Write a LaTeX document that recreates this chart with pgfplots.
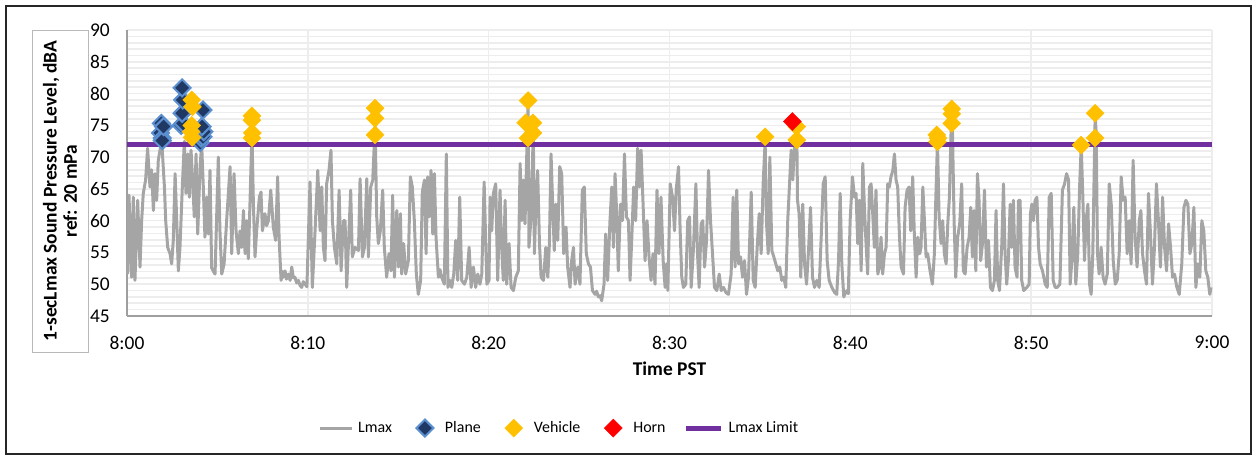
\documentclass[border=0pt]{standalone}
\usepackage{pgfplots}
\pgfplotsset{compat=1.18}
\usepackage{pgfplotstable}
\usepackage{fontspec}
\setmainfont{Carlito}
\definecolor{lmaxgray}{HTML}{A5A5A5}
\definecolor{limitpurple}{HTML}{7030A0}
\definecolor{vehyellow}{HTML}{FFC000}
\definecolor{planedark}{HTML}{203864}
\definecolor{planeedge}{HTML}{5B8FCF}
\definecolor{gridgray}{HTML}{EDEDED}
\pgfplotsset{
  mylinelegend/.style={legend image code/.code={\draw[##1] (0bp,0bp) -- (32bp,0bp);}},
  mylimitlegend/.style={legend image code/.code={\draw[##1] (0bp,0bp) -- (35bp,0bp);}},
  mymarklegend/.style={legend image code/.code={\path[draw=none,fill=none] (0bp,-1bp) rectangle (30bp,1bp);\draw[mark repeat=2,mark phase=2,##1] plot coordinates {(0bp,0bp) (15bp,0bp) (30bp,0bp)};}},
}
\pgfplotstableread{
t L
0.04 51.6
0.11 64.0
0.26 51.1
0.35 63.7
0.44 50.6
0.59 63.2
0.72 52.7
0.81 60.0
0.90 64.3
1.03 66.4
1.14 71.4
1.27 65.3
1.36 68.0
1.46 61.6
1.55 67.4
1.64 63.2
1.73 69.5
1.88 72.0
1.95 71.1
2.07 65.3
2.14 60.0
2.25 55.8
2.38 54.8
2.47 53.2
2.56 56.9
2.66 67.4
2.75 60.0
2.84 52.1
2.93 55.8
3.06 65.3
3.17 72.5
3.26 64.3
3.36 70.5
3.45 63.7
3.54 71.1
3.63 66.4
3.72 60.6
3.82 70.5
3.91 57.9
4.04 68.5
4.13 72.0
4.22 65.3
4.31 57.4
4.41 63.7
4.50 57.9
4.59 67.9
4.68 52.6
4.78 52.0
4.87 51.6
5.05 70.0
5.14 58.4
5.24 51.6
5.37 53.2
5.51 60.0
5.70 68.5
5.79 54.8
5.92 67.4
6.03 58.4
6.16 54.8
6.25 58.4
6.34 55.8
6.44 61.6
6.53 54.8
6.62 60.0
6.71 54.0
6.80 62.6
6.91 74.0
6.99 62.6
7.08 54.3
7.17 58.4
7.32 63.7
7.41 64.5
7.49 58.4
7.63 61.1
7.72 59.2
7.82 60.0
7.95 64.8
8.09 59.0
8.22 56.9
8.33 66.9
8.41 57.4
8.52 50.6
8.60 52.0
8.65 51.1
8.74 52.1
8.82 50.8
8.92 51.6
9.02 50.6
9.11 52.7
9.20 51.0
9.29 51.1
9.38 50.2
9.48 50.6
9.57 49.8
9.66 49.5
9.75 50.4
9.85 50.0
9.95 49.6
10.12 66.1
10.25 49.5
10.40 58.4
10.55 67.9
10.68 58.4
10.77 65.3
10.86 55.8
10.95 53.7
11.04 65.8
11.17 67.9
11.28 71.1
11.36 60.0
11.47 55.8
11.60 53.2
11.73 64.8
11.84 52.1
11.97 60.0
12.06 60.0
12.15 49.5
12.24 55.8
12.37 64.8
12.46 54.3
12.61 55.8
12.80 55.3
12.89 66.6
13.02 54.3
13.13 55.8
13.26 66.6
13.35 54.3
13.48 65.3
13.59 66.4
13.72 75.0
13.81 60.6
13.90 56.4
14.01 58.4
14.14 64.8
14.23 55.8
14.36 51.1
14.49 54.8
14.60 52.1
14.69 64.0
14.79 51.1
14.92 61.6
15.01 52.7
15.12 61.1
15.19 51.6
15.30 56.4
15.41 51.6
15.56 53.7
15.67 66.9
15.78 65.3
15.89 60.0
16.00 51.6
16.11 48.4
16.24 50.6
16.33 64.5
16.45 66.4
16.54 54.8
16.63 66.9
16.72 60.6
16.81 67.9
16.91 57.9
17.00 67.4
17.09 57.4
17.22 51.1
17.31 52.3
17.40 51.1
17.55 50.0
17.66 70.5
17.75 49.5
17.86 50.6
17.96 49.5
18.07 51.6
18.18 56.9
18.29 50.6
18.40 63.7
18.51 50.6
18.66 50.0
18.79 51.1
18.92 55.8
19.03 49.5
19.16 52.7
19.28 49.5
19.40 51.6
19.52 50.0
19.62 51.6
19.75 66.1
19.90 50.0
20.02 50.6
20.08 63.7
20.17 58.4
20.26 64.3
20.39 65.8
20.50 50.6
20.63 64.8
20.72 55.8
20.81 50.6
20.91 63.2
21.00 50.0
21.13 56.4
21.24 49.5
21.37 49.0
21.50 51.1
21.64 52.1
21.74 69.0
21.83 60.0
21.92 66.4
22.01 59.5
22.18 78.5
22.23 55.8
22.33 60.0
22.47 74.0
22.53 54.8
22.62 63.2
22.71 67.9
22.81 56.4
22.90 51.1
23.03 50.6
23.16 55.8
23.27 51.1
23.36 56.4
23.45 70.5
23.54 62.6
23.63 55.3
23.71 62.6
23.82 56.9
23.93 68.5
24.04 67.4
24.15 54.8
24.28 59.0
24.37 52.7
24.50 49.5
24.59 53.7
24.69 55.8
24.78 50.0
24.93 52.7
25.05 50.0
25.18 64.8
25.29 65.3
25.40 54.8
25.52 53.2
25.63 52.7
25.74 49.0
25.88 48.4
25.97 48.9
26.07 48.0
26.16 48.2
26.25 47.4
26.38 50.0
26.47 57.9
26.58 50.6
26.71 60.0
26.81 65.3
26.90 55.8
26.99 67.4
27.08 61.1
27.17 52.1
27.29 62.6
27.40 60.0
27.51 70.5
27.62 60.6
27.73 60.0
27.82 50.6
27.91 56.9
28.02 65.3
28.13 60.0
28.24 71.4
28.34 65.3
28.43 71.1
28.54 62.6
28.65 53.7
28.76 60.0
28.87 54.3
28.98 50.6
29.09 54.8
29.20 50.0
29.31 64.8
29.42 54.8
29.53 63.7
29.65 53.7
29.76 49.5
29.84 53.2
29.91 49.0
30.04 65.8
30.17 63.7
30.28 58.4
30.37 64.8
30.50 68.5
30.59 58.4
30.68 51.1
30.77 49.5
30.90 50.0
31.01 60.0
31.11 60.6
31.20 49.5
31.33 55.8
31.46 65.8
31.55 54.8
31.64 49.5
31.75 59.5
31.84 60.0
31.94 52.7
32.05 56.9
32.16 67.9
32.27 60.0
32.38 54.8
32.49 49.5
32.62 49.0
32.75 51.6
32.86 49.0
32.99 49.5
33.12 48.7
33.26 48.4
33.41 51.6
33.52 63.7
33.63 52.7
33.72 64.8
33.82 53.2
33.93 54.3
34.04 51.1
34.15 53.7
34.26 48.4
34.37 51.1
34.52 64.5
34.63 50.6
34.74 49.5
34.85 55.8
34.96 61.1
35.07 54.8
35.18 65.8
35.29 72.5
35.36 60.0
35.46 54.8
35.55 70.0
35.66 55.3
35.77 54.3
35.88 53.2
35.99 52.1
36.10 52.7
36.21 50.6
36.32 51.1
36.43 49.5
36.54 60.0
36.64 65.8
36.73 71.1
36.82 66.4
36.91 71.6
37.04 74.0
37.08 63.2
37.17 61.1
37.26 51.1
37.37 62.6
37.47 53.2
37.58 50.0
37.69 55.3
37.80 62.1
37.91 51.1
38.02 49.5
38.15 50.6
38.28 49.5
38.39 57.4
38.50 65.8
38.61 66.9
38.72 53.7
38.83 50.6
38.98 49.5
39.13 48.7
39.25 48.4
39.35 53.7
39.44 64.3
39.53 53.2
39.64 48.0
39.72 48.6
39.81 49.0
39.89 48.5
39.99 60.0
40.12 66.9
40.23 63.7
40.32 64.3
40.41 56.4
40.50 63.2
40.60 52.1
40.69 69.0
40.78 62.1
40.87 56.4
40.96 51.6
41.06 65.3
41.15 65.8
41.24 61.1
41.33 55.8
41.42 64.8
41.52 51.6
41.61 52.7
41.70 57.4
41.79 51.6
41.89 54.8
41.98 55.8
42.07 65.8
42.16 65.3
42.25 66.9
42.35 67.9
42.44 70.5
42.53 66.4
42.62 65.3
42.72 57.4
42.81 52.7
42.94 51.6
43.03 62.1
43.14 64.8
43.25 65.3
43.34 58.4
43.45 66.9
43.54 57.9
43.64 51.1
43.73 57.4
43.84 54.8
43.91 55.8
44.01 65.3
44.10 60.0
44.19 54.3
44.28 54.8
44.41 52.1
44.54 50.0
44.65 54.8
44.72 62.6
44.82 72.5
44.91 60.6
45.02 56.4
45.11 60.0
45.20 54.8
45.30 53.2
45.39 59.5
45.48 63.7
45.59 76.0
45.65 74.0
45.74 60.0
45.83 51.1
45.94 57.4
46.05 59.5
46.16 65.8
46.25 52.1
46.35 51.6
46.46 55.8
46.57 57.4
46.66 62.1
46.75 54.3
46.85 61.6
46.94 52.1
47.03 67.4
47.12 63.2
47.21 53.7
47.31 56.4
47.42 64.8
47.53 52.7
47.64 56.9
47.75 49.5
47.86 49.0
47.97 50.6
48.06 61.6
48.15 50.6
48.25 49.0
48.38 56.4
48.47 65.8
48.56 54.8
48.65 50.0
48.74 53.7
48.84 62.6
48.93 55.8
49.02 63.2
49.11 52.7
49.22 51.1
49.30 63.2
49.39 63.2
49.48 50.6
49.59 49.0
49.76 49.5
49.89 50.0
49.96 61.1
50.04 62.6
50.13 60.0
50.22 63.2
50.32 63.7
50.41 55.8
50.50 53.2
50.63 52.1
50.78 50.0
50.89 49.5
51.00 63.7
51.11 64.3
51.22 50.6
51.33 49.5
51.44 49.5
51.59 50.0
51.73 64.8
51.85 65.8
51.96 67.4
52.07 66.4
52.16 50.0
52.25 53.7
52.36 62.1
52.47 50.0
52.58 54.8
52.68 65.3
52.77 71.9
52.86 63.7
52.95 53.7
53.04 60.0
53.14 62.6
53.23 50.0
53.32 48.4
53.41 54.8
53.54 76.5
53.60 73.7
53.67 54.8
53.76 51.6
53.87 55.8
53.98 51.1
54.09 50.0
54.21 51.6
54.32 65.8
54.43 62.6
54.54 53.7
54.65 50.0
54.76 50.6
54.87 54.8
54.98 66.9
55.09 63.2
55.20 63.7
55.31 54.8
55.42 60.0
55.53 53.2
55.64 69.5
55.75 57.4
55.86 52.7
55.98 60.0
56.07 61.6
56.16 54.8
56.27 52.1
56.38 50.0
56.49 64.3
56.60 57.9
56.71 50.0
56.82 55.8
56.93 65.8
57.04 60.0
57.15 52.7
57.27 63.7
57.38 55.8
57.49 52.1
57.60 59.5
57.71 55.8
57.82 51.1
57.93 51.6
58.06 49.5
58.19 48.4
58.33 53.2
58.45 62.1
58.56 63.2
58.67 62.6
58.78 54.8
58.89 56.4
59.00 62.1
59.11 49.5
59.22 53.2
59.33 51.1
59.44 60.0
59.55 58.4
59.66 52.1
59.77 51.1
59.88 48.4
59.95 49.5
}\lmaxdata
\begin{document}
\begin{tikzpicture}
\begin{axis}[
  at={(0bp,0bp)}, anchor=south west,
  scale only axis, width=1085bp, height=286bp,
  xmin=0, xmax=60, ymin=45, ymax=90,
  axis x line*=bottom, axis y line*=left,
  axis line style={draw=gray!75, line width=1.5bp},
  xtick={0,10,20,30,40,50,60},
  xticklabels={8:00,8:10,8:20,8:30,8:40,8:50,9:00},
  ytick={45,50,...,90},
  minor y tick num=4,
  major tick length=0pt, minor tick length=0pt,
  xmajorgrids, ymajorgrids, yminorgrids,
  major grid style={draw=gridgray, line width=1.6bp},
  minor grid style={draw=gridgray, line width=1.6bp},
  /pgf/number format/assume math mode=true,
  tick label style={font=\fontsize{19.5}{21}\selectfont},
  yticklabel style={anchor=east, inner sep=0pt, xshift=-17bp},
  xticklabel style={anchor=north, inner sep=0pt, yshift=-20bp},
  xlabel={Time PST},
  xlabel style={font=\bfseries\fontsize{19.5}{21}\selectfont, at={(axis description cs:0.5,0)}, anchor=north, inner sep=0pt, yshift=-46bp},
  ylabel={1-secLmax Sound Pressure Level, dBA\\ref: 20 mPa},
  ylabel style={font=\bfseries\fontsize{19.5}{20.5}\selectfont, align=center, at={(axis description cs:-0.06175,0.437)}, anchor=center, draw=gray!55, line width=0.8bp, minimum width=322bp, minimum height=56bp, inner sep=0pt},
  legend columns=5,
  legend style={at={(axis description cs:0.176,-0.392)}, anchor=west, draw=none, fill=none, inner sep=0pt,
    font=\fontsize{16}{19}\selectfont,
    nodes={inner sep=0pt, font=\fontsize{16}{19}\selectfont},
    /tikz/every odd column/.append style={column sep=5bp},
    /tikz/every even column/.append style={column sep=18bp}},
  clip=false,
]
\addplot[lmaxgray, line width=3bp, line join=round, mylinelegend] table[x=t, y=L] {\lmaxdata};
\addlegendentry{Lmax}
\addplot[limitpurple, line width=5bp, forget plot] coordinates {(0,72) (60,72)};
\addplot[only marks, mark=diamond*, mark size=8.5bp, mark options={xscale=1.333, fill=planedark, draw=planeedge, line width=2bp}, mymarklegend] coordinates {
(1.85,73.8) (1.90,75.3) (1.95,73.0) (1.95,72.6) (2.02,74.8)
(3.00,75.0) (3.10,75.3) (3.05,76.9) (3.08,79.0) (3.05,80.9)
(4.05,72.3) (4.10,73.0) (4.20,73.2) (4.25,74.0) (4.15,74.8) (4.20,77.4)
};
\addlegendentry{Plane}
\addplot[only marks, mark=diamond*, mark size=9bp, mark options={xscale=1.333, fill=vehyellow, draw=vehyellow, line width=0.4bp}, mymarklegend] coordinates {
(3.58,79.0) (3.62,77.9) (3.58,75.0) (3.55,74.0) (3.60,73.1)
(6.91,76.5) (6.91,75.8) (6.93,73.8) (6.91,73.0)
(13.72,77.7) (13.72,76.1) (13.72,73.5)
(22.18,78.9) (22.05,75.4) (22.18,73.0) (22.45,75.4) (22.45,73.8)
(35.29,73.2)
(37.04,74.8) (37.04,72.7)
(44.78,73.5) (44.82,72.4) (44.85,73.0)
(45.61,77.6) (45.61,76.8) (45.61,75.3)
(52.77,71.9)
(53.54,76.9) (53.54,73.0)
};
\addlegendentry{Vehicle}
\addplot[only marks, mark=diamond*, mark size=9bp, mark options={xscale=1.333, fill=red, draw=red, line width=0.4bp}, mymarklegend] coordinates {(36.80,75.6)};
\addlegendentry{Horn}
\addlegendimage{limitpurple, line width=5bp, mylimitlegend}
\addlegendentry{Lmax Limit}
\end{axis}
\draw[line width=1.2bp, black!85] (-121bp,-138bp) rectangle (1124bp,310bp);
\path (-127bp,-144bp) rectangle (1130bp,316bp);
\end{tikzpicture}
\end{document}
